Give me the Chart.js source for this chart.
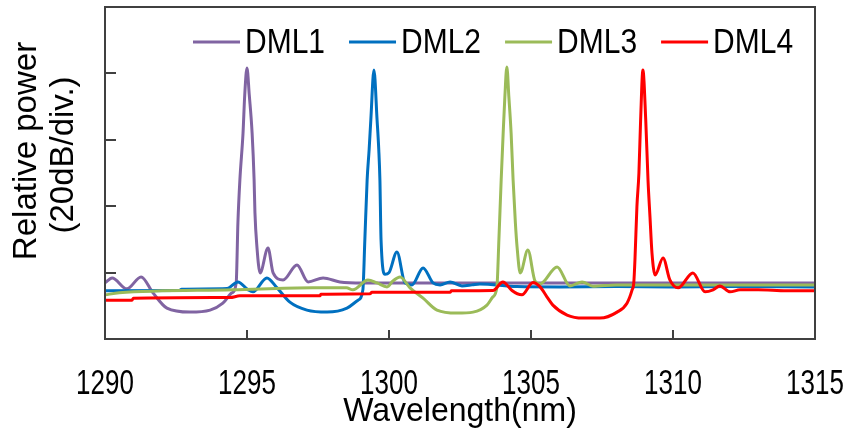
<!DOCTYPE html>
<html>
<head>
<meta charset="utf-8">
<script src="https://cdn.jsdelivr.net/npm/chart.js@4.4.1/dist/chart.umd.min.js"></script>
<style>
    html, body { margin: 0; padding: 0; background: #fff; }
</style>
</head>
<body>
<canvas id="spectrum" width="853" height="430"></canvas>
<script>
// Spectrum data (wavelength in nm, relative power in dB, 20 dB per division)
const dml1Wl = [1290.00, 1290.25, 1290.77, 1291.27, 1291.69, 1292.18, 1292.99, 1293.70, 1294.15, 1294.47, 1294.62,
    1294.68, 1294.75, 1294.86, 1294.92, 1295.00, 1295.08, 1295.18, 1295.25, 1295.28, 1295.35, 1295.46,
    1295.74, 1295.92, 1296.27, 1296.76, 1297.15, 1297.68, 1298.27, 1299.08, 1302, 1306, 1310, 1315];
const dml1Pw = [16.9, 18.4, 15.1, 18.7, 13.9, 9.3, 8.1, 8.7, 10.8, 13.9, 16.9,
    35, 48, 62, 73.5, 81.6, 73.5, 62, 48, 38, 27.7, 19.9,
    27.4, 19.9, 17.8, 22.3, 17.2, 18.4, 17.2, 16.9, 16.9, 16.9, 16.9, 16.9];

const dml2Wl = [1290, 1292.6, 1292.7, 1294.3, 1294.68, 1295.04, 1295.21, 1295.70, 1296.06, 1296.51, 1297.11,
    1297.82, 1298.52, 1298.91, 1299.08, 1299.15, 1299.23, 1299.30, 1299.36, 1299.47, 1299.58, 1299.64,
    1299.68, 1299.72, 1299.86, 1300.0, 1300.28, 1300.56, 1300.81, 1301.20, 1301.55, 1301.80, 1302.15,
    1302.57, 1302.92, 1303.20, 1304.5, 1306, 1308, 1310, 1312, 1315];
const dml2Pw = [14.5, 14.6, 15.0, 15.2, 17.2, 14.8, 14.2, 18.4, 15.4, 11.1, 8.7,
    8.1, 9.3, 11.7, 14.8, 30, 47.9, 57, 66, 81.0, 66, 57,
    47.9, 29.8, 19.5, 20.0, 26.2, 16.9, 16.3, 21.4, 16.9, 16.3, 17.2,
    16.0, 16.3, 16.6, 15.8, 15.7, 15.8, 15.7, 15.8, 15.7];

const dml3Wl = [1290, 1290.5, 1294.5, 1297.3, 1298.5, 1298.73, 1299.26, 1299.58, 1299.93, 1300.14, 1300.39,
    1300.74, 1301.20, 1301.69, 1302.39, 1302.96, 1303.45, 1303.66, 1303.80, 1303.87, 1303.95, 1304.02,
    1304.08, 1304.15, 1304.22, 1304.30, 1304.37, 1304.45, 1304.51, 1304.62, 1304.89, 1305.14, 1305.32,
    1305.92, 1306.37, 1306.80, 1307.18, 1308, 1310, 1312, 1315];
const dml3Pw = [13.3, 13.9, 14.8, 15.4, 15.4, 14.8, 17.8, 16.9, 15.7, 17.5, 18.7,
    15.4, 12.3, 8.7, 7.8, 8.1, 10.2, 12.7, 15.7, 30, 47.9, 62,
    73, 81.9, 73, 62, 47.9, 35, 27.7, 19.9, 26.8, 17.5, 16.6,
    21.7, 16.0, 17.2, 15.9, 16.3, 16.3, 16.3, 16.3];

const dml4Wl = [1290, 1290.95, 1291.0, 1294.4, 1294.75, 1297.57, 1297.6, 1299.33, 1299.4, 1302.15, 1302.2,
    1303.66, 1304.01, 1304.08, 1304.33, 1304.68, 1305.07, 1305.32, 1305.56, 1305.77, 1306.27, 1306.83,
    1307.43, 1308.03, 1308.38, 1308.56, 1308.62, 1308.66, 1308.73, 1308.80, 1308.86, 1308.94, 1309.04,
    1309.12, 1309.19, 1309.26, 1309.37, 1309.65, 1309.89, 1310.18, 1310.70, 1311.13, 1311.41, 1311.65,
    1312.01, 1312.36, 1313, 1314, 1315];
const dml4Pw = [11.7, 11.7, 12.3, 12.5, 13.0, 13.0, 13.5, 13.6, 14.1, 14.1, 14.5,
    14.6, 17.2, 16.9, 14.6, 13.3, 17.0, 15.7, 12.7, 10.2, 7.2, 6.3,
    6.3, 8.1, 10.8, 14.8, 17, 23.8, 40, 50, 66, 81.0, 66,
    47.9, 36.7, 25.9, 19.3, 24.4, 17.8, 15.4, 19.9, 14.2, 14.8, 16.0,
    14.2, 14.8, 14.8, 14.5, 14.5];

const seriesNames = ['DML1', 'DML2', 'DML3', 'DML4'];
const seriesColors = ['#8064A2', '#0070C0', '#9BBB59', '#FF0000'];
const xTicks = [1290, 1295, 1300, 1305, 1310, 1315];
const xTitle = 'Wavelength(nm)';
const yTitle = ['Relative power', '(20dB/div.)'];
const yMin = 0, yMax = 100, yStep = 20;

const family = '"Liberation Sans", Arial, sans-serif';

function toPoints(wl, pw) {
    return wl.map((w, i) => ({ x: w, y: pw[i] }));
}
const allWl = [dml1Wl, dml2Wl, dml3Wl, dml4Wl];
const allPw = [dml1Pw, dml2Pw, dml3Pw, dml4Pw];

// text in the source picture is a bit taller than its width suggests
function tallText(ctx, txt, x, y, size, stretch, align) {
    ctx.save();
    ctx.font = `${size}px ${family}`;
    ctx.textAlign = align;
    ctx.textBaseline = 'alphabetic';
    ctx.translate(x, y);
    ctx.scale(1, stretch);
    ctx.fillText(txt, 0, 0);
    ctx.restore();
}

// Frame, inward tick marks, tick labels, legend and titles
const framePlugin = {
    id: 'framePlugin',
    afterDatasetsDraw(chart) {
        const { ctx, chartArea: a, scales } = chart;
        ctx.save();

        ctx.strokeStyle = '#404040';
        ctx.lineWidth = 2;
        ctx.strokeRect(a.left, a.top, a.right - a.left, a.bottom - a.top);

        ctx.beginPath();
        scales.y.ticks.forEach(t => {
            if (t.value <= yMin || t.value >= yMax) return;
            const py = Math.round(scales.y.getPixelForValue(t.value));
            ctx.moveTo(a.left, py);
            ctx.lineTo(a.left + 11, py);
        });
        scales.x.ticks.forEach(t => {
            if (t.value <= xTicks[0] || t.value >= xTicks[xTicks.length - 1]) return;
            const px = Math.round(scales.x.getPixelForValue(t.value));
            ctx.moveTo(px, a.bottom);
            ctx.lineTo(px, a.bottom - 9);
        });
        ctx.stroke();

        ctx.fillStyle = '#000';
        // x tick labels and title
        scales.x.ticks.forEach(t => {
            tallText(ctx, String(t.value), scales.x.getPixelForValue(t.value), a.bottom + 55, 26, 1.35, 'center');
        });
        tallText(ctx, xTitle, (a.left + a.right) / 2, a.bottom + 82, 32, 1.05, 'center');

        // legend inside the plot, top
        let x = 193;
        const ly = 42;
        ctx.font = `30px ${family}`;
        seriesNames.forEach((name, i) => {
            ctx.strokeStyle = seriesColors[i];
            ctx.lineWidth = 3;
            ctx.beginPath();
            ctx.moveTo(x, ly);
            ctx.lineTo(x + 47, ly);
            ctx.stroke();
            tallText(ctx, name, x + 52, 53, 30, 1.15, 'left');
            x += 52 + ctx.measureText(name).width + 24;
        });

        // rotated y title, two lines
        ctx.font = `33px ${family}`;
        ctx.textAlign = 'center';
        ctx.textBaseline = 'middle';
        [[yTitle[0], 27, 151], [yTitle[1], 64, 155]].forEach(([txt, tx, ty]) => {
            ctx.save();
            ctx.translate(tx, ty);
            ctx.rotate(-Math.PI / 2);
            ctx.fillText(txt, 0, 0);
            ctx.restore();
        });

        ctx.restore();
    }
};

const ctx = document.getElementById('spectrum').getContext('2d');
const chart = new Chart(ctx, {
    type: 'line',
    data: {
        datasets: seriesNames.map((name, i) => ({
            label: name,
            data: toPoints(allWl[i], allPw[i]),
            borderColor: seriesColors[i],
            backgroundColor: seriesColors[i],
            borderWidth: 3,
            pointRadius: 0,
            cubicInterpolationMode: 'monotone',
            fill: false,
            order: seriesNames.length - i   // DML4 drawn on top
        }))
    },
    options: {
        responsive: false,
        animation: false,
        layout: { padding: { left: 105, right: 38, top: 7, bottom: 91 } },
        plugins: {
            legend: { display: false },
            tooltip: { enabled: false }
        },
        scales: {
            x: {
                type: 'linear',
                min: xTicks[0],
                max: xTicks[xTicks.length - 1],
                afterBuildTicks: scale => { scale.ticks = xTicks.map(v => ({ value: v })); },
                ticks: { display: false },
                grid: { display: false, drawTicks: false },
                border: { display: false }
            },
            y: {
                min: yMin,
                max: yMax,
                ticks: { stepSize: yStep, display: false },
                grid: { display: false, drawTicks: false },
                border: { display: false }
            }
        }
    },
    plugins: [framePlugin]
});
</script>
</body>
</html>
